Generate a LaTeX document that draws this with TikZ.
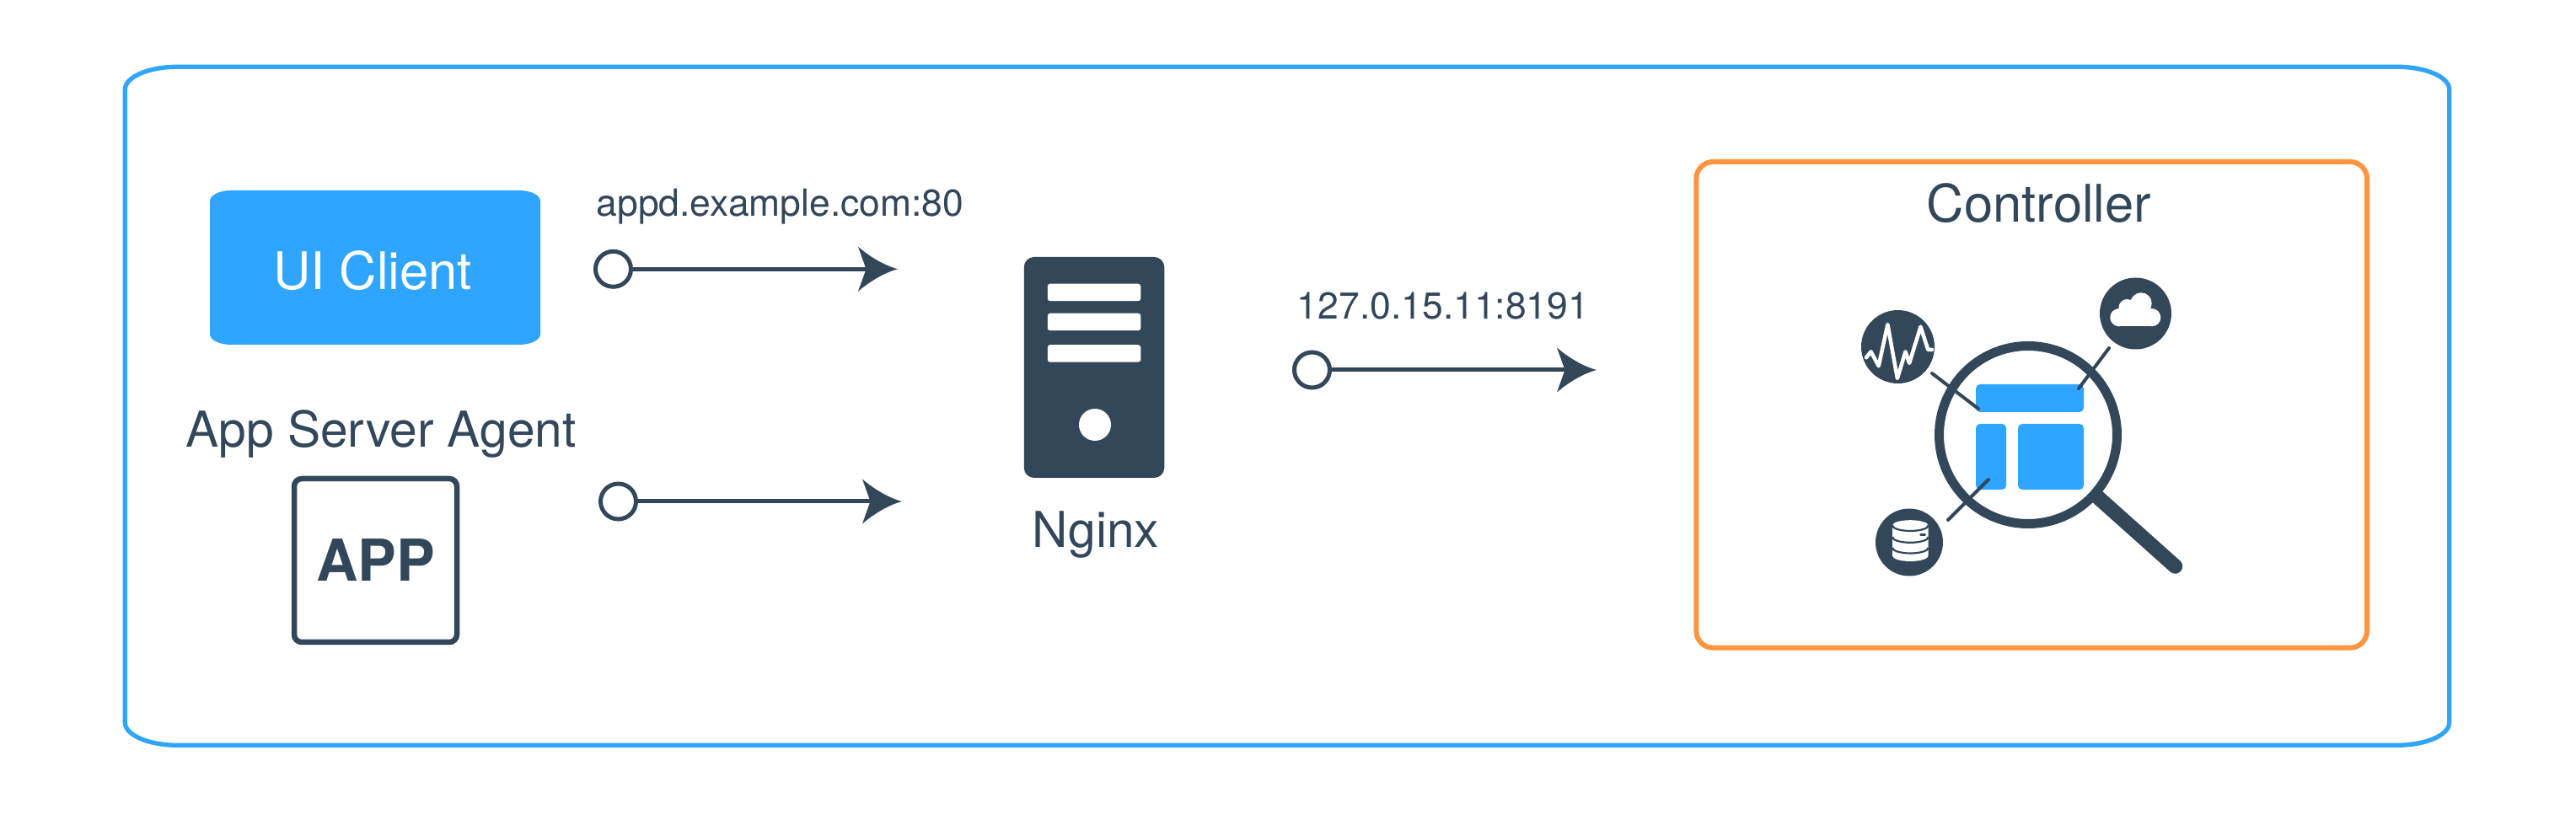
\documentclass[tikz,border=0pt]{standalone}
\usepackage{fontspec}
\setmainfont{TeX Gyre Heros}
\usetikzlibrary{calc}

\definecolor{skyblue}{HTML}{30A5FF}
\definecolor{slate}{HTML}{33475B}
\definecolor{tangerine}{HTML}{FF9540}

\pgfdeclarearrow{
  name=swoop,
  setup code={
    \pgfarrowssettipend{0pt}
    \pgfarrowssetlineend{-6pt}
    \pgfarrowssetbackend{-13.37pt}
    \pgfarrowssetvisualbackend{-10.67pt}
  },
  drawing code={
    \pgfpathmoveto{\pgfpoint{0pt}{0pt}}
    \pgfpathcurveto{\pgfpoint{-4.5pt}{1.2pt}}{\pgfpoint{-9.5pt}{4.2pt}}{\pgfpoint{-13.37pt}{7.54pt}}
    \pgfpathlineto{\pgfpoint{-10.67pt}{0pt}}
    \pgfpathlineto{\pgfpoint{-13.37pt}{-7.54pt}}
    \pgfpathcurveto{\pgfpoint{-9.5pt}{-4.2pt}}{\pgfpoint{-4.5pt}{-1.2pt}}{\pgfpoint{0pt}{0pt}}
    \pgfusepathqfill
  }
}

\newcommand{\softbox}[6]{
  (#1+#5,#2) -- (#3-#5,#2)
  arc[start angle=90,end angle=0,x radius=#5,y radius=#6] -- (#3,#4+#6)
  arc[start angle=0,end angle=-90,x radius=#5,y radius=#6] -- (#1+#5,#4)
  arc[start angle=-90,end angle=-180,x radius=#5,y radius=#6] -- (#1,#2-#6)
  arc[start angle=180,end angle=90,x radius=#5,y radius=#6] -- cycle
}

\tikzset{
  caption/.style={text=slate,anchor=base,inner sep=0pt,font=\fontsize{16.7}{20}\selectfont},
  address/.style={text=slate,anchor=base,inner sep=0pt,font=\fontsize{12.65}{15}\selectfont},
  port/.style={circle,draw=slate,fill=white,line width=.05cm,minimum size=.42cm,inner sep=0pt},
  link/.style={-swoop,draw=slate,fill=slate,line width=.05cm},
  slot/.style={rectangle,fill=white,rounded corners=.03cm,minimum width=1.105cm,minimum height=.205cm,inner sep=0pt},
  panel/.style={rectangle,fill=skyblue,rounded corners=.05cm,inner sep=0pt},
  badge/.style={circle,fill=slate,inner sep=0pt},
  leader/.style={draw=slate,line width=.04cm,line cap=round}
}

\begin{document}
\begin{tikzpicture}
  \useasboundingbox (0,0) rectangle (30.56,9.73);

  \draw[skyblue,line width=.053cm] \softbox{1.483}{8.937}{29.057}{.887}{.62}{.27};

  \fill[skyblue] \softbox{2.49}{7.47}{6.41}{5.64}{.25}{.125};
  \node[text=white,anchor=base,inner sep=0pt,font=\fontsize{17.5}{20}\selectfont] (uiClient) at (4.42,6.295) {UI Client};

  \node[caption] (agentLabel) at (4.52,4.42) {App Server Agent};
  \node[draw=slate,line width=.065cm,rounded corners=.09cm,minimum width=1.93cm,minimum height=1.94cm,inner sep=0pt,
    text=slate,font=\bfseries\fontsize{19.5}{22}\selectfont] (appBox) at (4.455,3.08) {APP};

  \node[address] (uiAddress) at (9.255,7.165) {appd.example.com:80};
  \node[port] (uiPort) at (7.275,6.537) {};
  \coordinate (uiTip) at (10.65,6.537);
  \draw[link] (uiPort) -- (uiTip);

  \node[port] (agentPort) at (7.335,3.78) {};
  \coordinate (agentTip) at (10.70,3.78);
  \draw[link] (agentPort) -- (agentTip);

  \node[rectangle,fill=slate,rounded corners=.12cm,minimum width=1.665cm,minimum height=2.62cm,inner sep=0pt] (server) at (12.98,5.37) {};
  \foreach \slotY [count=\n] in {6.26,5.91,5.535} {
    \node[slot] (slot\n) at (12.98,\slotY) {};
  }
  \node[circle,fill=white,minimum size=.38cm,inner sep=0pt] (serverDot) at (12.99,4.69) {};
  \node[caption] (nginxLabel) at (13.0,3.23) {Nginx};

  \node[address] (nginxAddress) at (17.12,5.94) {127.0.15.11:8191};
  \node[port] (nginxPort) at (15.565,5.34) {};
  \coordinate (nginxTip) at (18.94,5.34);
  \draw[link] (nginxPort) -- (nginxTip);

  \node[draw=tangerine,line width=.06cm,rounded corners=.2cm,minimum width=7.957cm,minimum height=5.767cm,inner sep=0pt] (controller) at (24.102,4.9265) {};
  \node[text=slate,anchor=base,inner sep=0pt,font=\fontsize{17.5}{20}\selectfont] (controllerLabel) at (24.19,7.09) {Controller};

  \coordinate (handleEnd) at (25.805,3.01);
  \coordinate (handleStart) at (24.06,4.57);
  \draw[slate,line width=.175cm,line cap=round] (handleStart) -- (handleEnd);
  \node[circle,draw=slate,fill=white,line width=.11cm,minimum size=2.11cm,inner sep=0pt] (lens) at (24.06,4.57) {};

  \node[panel,minimum width=1.28cm,minimum height=.33cm] (panelTop) at (24.08,5.005) {};
  \node[panel,minimum width=.36cm,minimum height=.78cm] (panelSide) at (23.62,4.31) {};
  \node[panel,minimum width=.78cm,minimum height=.78cm] (panelMain) at (24.33,4.31) {};

  \node[badge,minimum size=.87cm] (pulse) at (22.515,5.615) {};
  \node[badge,minimum size=.85cm] (cloud) at (25.335,6.01) {};
  \node[badge,minimum size=.80cm] (database) at (22.65,3.295) {};

  \coordinate (pulseFoot) at (22.92,5.30);
  \coordinate (pulseHead) at (23.47,4.88);
  \coordinate (cloudFoot) at (25.02,5.60);
  \coordinate (cloudHead) at (24.66,5.12);
  \coordinate (databaseFoot) at (23.11,3.56);
  \coordinate (databaseHead) at (23.59,4.04);
  \draw[leader] (pulseFoot) -- (pulseHead);
  \draw[leader] (cloudFoot) -- (cloudHead);
  \draw[leader] (databaseFoot) -- (databaseHead);

  \draw[white,line width=.045cm,line cap=round,line join=round]
    (22.14,5.487) -- (22.195,5.557) -- (22.287,5.387) -- (22.394,5.88) -- (22.509,5.24)
    -- (22.605,5.557) -- (22.651,5.42) -- (22.785,5.853) -- (22.873,5.58) -- (22.92,5.58);

  \begin{scope}[shift={(cloud.center)}]
    \fill[white] (-.196,-.153) rectangle (.192,.05);
    \foreach \lobeX/\lobeY/\lobeR in {-.196/-.047/.106,.192/-.047/.106,.065/.12/.127,-.10/.07/.10} {
      \fill[white] (\lobeX,\lobeY) circle (\lobeR);
    }
  \end{scope}

  \begin{scope}[shift={(database.center)}]
    \fill[white] (-.2,.2) arc[start angle=180,end angle=0,x radius=.213,y radius=.063]
      -- (.226,-.16) arc[start angle=0,end angle=-180,x radius=.213,y radius=.065] -- cycle;
    \foreach \rimY in {.2,.062,-.065} {
      \draw[slate,line width=.022cm] (-.2,\rimY) arc[start angle=180,end angle=360,x radius=.213,y radius=.065];
    }
    \draw[slate,line width=.03cm,line cap=round] (.135,.085) -- (.185,.085);
  \end{scope}
\end{tikzpicture}
\end{document}
